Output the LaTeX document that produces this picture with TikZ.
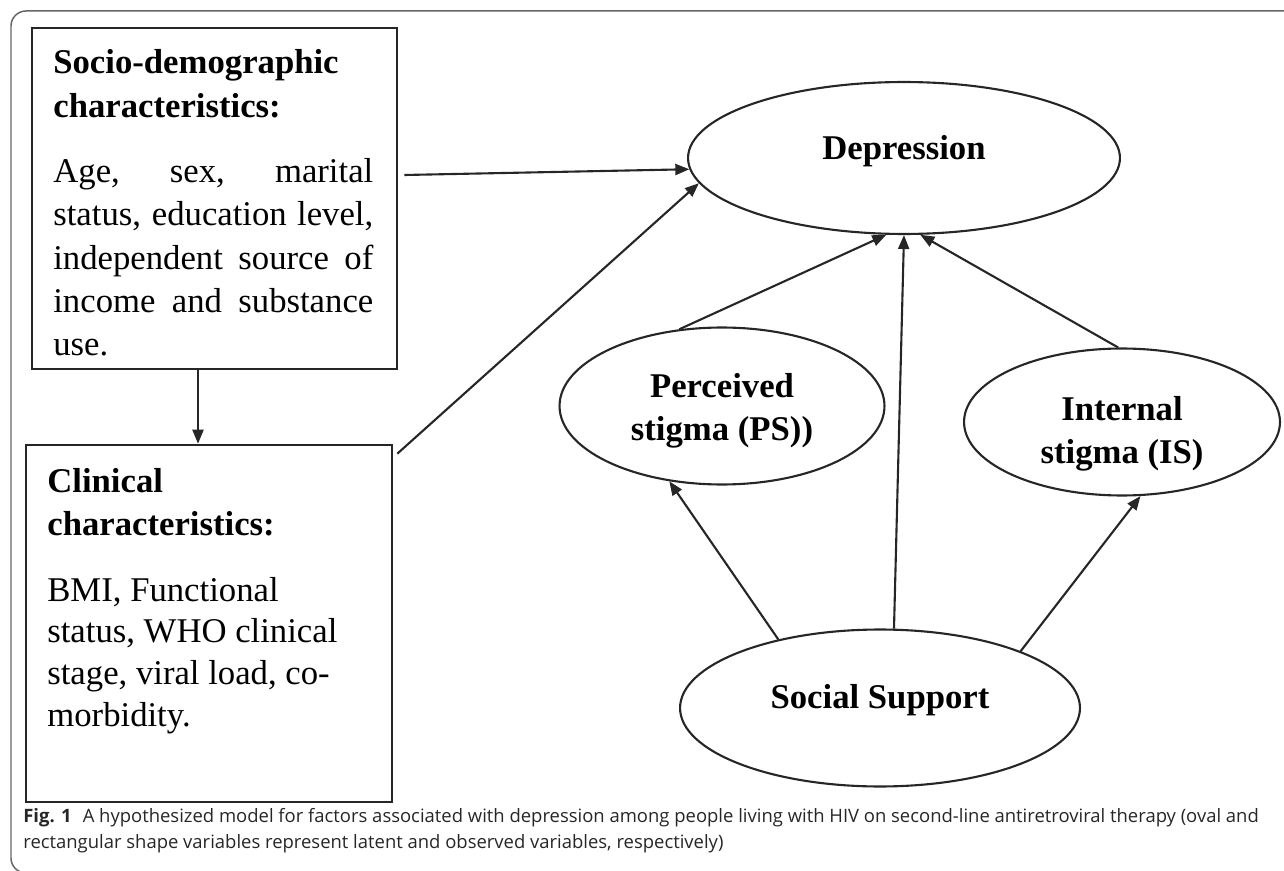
\documentclass[tikz,border=0pt]{standalone}
\usepackage{fontspec}
\setmainfont{Liberation Serif}
\newfontfamily\capfont{Open Sans}
\usetikzlibrary{arrows.meta,positioning,shapes.geometric,calc}

\begin{document}
\begin{tikzpicture}[
      x=0.02cm, y=-0.02cm,
      frame/.style={draw=black!60, line width=0.85pt, rounded corners=0.3cm},
      obs/.style={draw=black!85, line width=1.5pt, rectangle, inner sep=0pt},
      lat/.style={draw=black!85, line width=1.2pt, ellipse, inner sep=0pt, align=center,
                  font=\fontsize{19.75}{24.5}\selectfont\bfseries},
      body/.style={inner sep=0pt, anchor=base west, font=\fontsize{19.75}{24.5}\selectfont},
      arr/.style={draw=black!85, line width=1.2pt, -{Triangle[length=0.28cm, width=0.22cm]}},
      captext/.style={inner sep=0pt, anchor=base west, align=left, text=black!85,
                  font=\capfont\fontsize{10.5}{14.5}\selectfont}
    ]
      \clip (0,0) rectangle (1284,871);
      \draw[frame] (1300,11) -- (11,11) -- (11,873) -- (80,873);

      % observed variables
      \node[obs, minimum width=7.3cm, minimum height=6.82cm] (socio) at (214.5,198.5) {};
      \node[obs, minimum width=7.32cm, minimum height=7.14cm] (clinical) at (209,623.5) {};

      \node[body] (sociotext) at (53,74) {\parbox[t]{6.4cm}{\hyphenpenalty=10000
        \bfseries Socio-demographic\\characteristics:\par\vspace{13pt}
        \normalfont Age, sex, marital\linebreak status, education level,\linebreak
        independent source of\linebreak income and substance\linebreak use.}};
      \node[body] (clinicaltext) at (47,492) {\parbox[t]{6.6cm}{\raggedright\hyphenpenalty=10000
        \bfseries Clinical\\characteristics:\par\vspace{14pt}
        \normalfont\baselineskip=23.7pt BMI, Functional\\status, WHO clinical\\stage, viral load, co-\\morbidity.}};

      % latent variables
      \node[lat, minimum width=8.64cm, minimum height=3.04cm, text depth=0.43cm] (dep) at (904,158) {Depression};
      \node[lat, minimum width=6.5cm, minimum height=3.14cm, text height=1.52cm] (ps) at (722,406) {Perceived\\stigma (PS))};
      \node[lat, minimum width=6.32cm, minimum height=2.94cm, text height=1.8cm] (is) at (1122,422) {Internal\\stigma (IS)};
      \node[lat, minimum width=8.0cm, minimum height=3.14cm, text depth=0.47cm] (ss) at (880,708) {Social Support};

      \draw[arr] ([xshift=0.12cm, yshift=0.47cm]socio.east) -- (dep.183);
      \draw[arr] ([xshift=0.08cm, yshift=-0.2cm]clinical.north east) -- (dep.187);
      \draw[arr] ([xshift=-0.33cm]socio.south) -- ([xshift=-0.33cm]socio.south |- clinical.north);
      \draw[arr] (ps.119) -- (dep.257);
      \draw[arr] (ss.80) -- (dep.south);
      \draw[arr] (is.93) -- (dep.282);
      \draw[arr] (ss.146) -- (ps.235);
      \draw[arr] (ss.22) -- (is.284);

      \node[captext] (caption) at (23,848) {{\bfseries Fig. 1}\hspace{0.6em}A hypothesized model for factors associated with depression among people living with HIV on second-line antiretroviral therapy (oval and\\
        rectangular shape variables represent latent and observed variables, respectively)};
    \end{tikzpicture}
\end{document}
